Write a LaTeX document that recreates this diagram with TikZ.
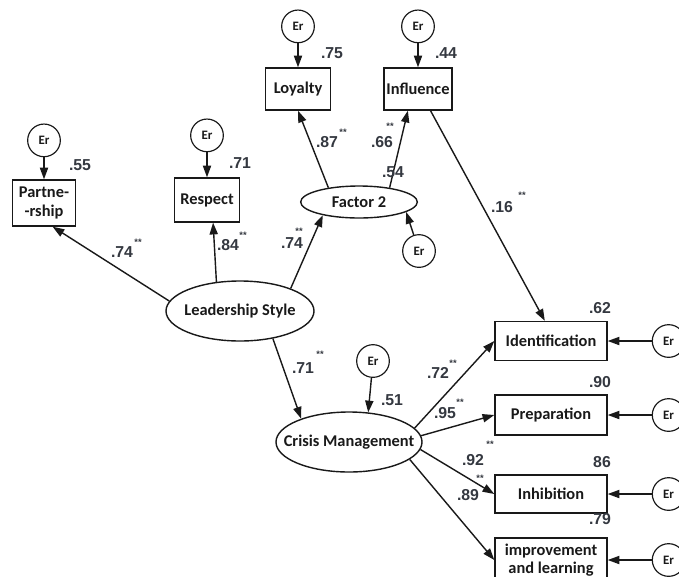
\documentclass[tikz,border=0pt]{standalone}
\usepackage{fontspec}
\setmainfont{Carlito}
\newfontfamily\numfont{Liberation Sans}
\usetikzlibrary{positioning}
\usetikzlibrary{shapes.geometric}
\usetikzlibrary{arrows.meta}
\definecolor{numgray}{RGB}{52,56,64}
\definecolor{inkgray}{RGB}{25,25,25}

\begin{document}
\begin{tikzpicture}[x=0.03cm, y=0.03cm, line width=1.2pt, draw=inkgray,
    >={Triangle[length=10pt,width=7pt]},
    box/.style={draw, rectangle, inner sep=2pt, align=center, text=inkgray,
      font=\bfseries\fontsize{14}{15.5}\selectfont},
    latent/.style={draw, ellipse, inner xsep=-14pt, inner ysep=0pt, text=inkgray,
      font=\bfseries\fontsize{14}{16}\selectfont},
    err/.style={draw, line width=1pt, circle, minimum size=0.98cm, inner sep=0pt, text=inkgray,
      font=\bfseries\fontsize{11}{13}\selectfont},
    coef/.style={inner sep=0pt, text=numgray,
      font=\numfont\bfseries\fontsize{13.5}{15}\selectfont},
    stars/.style={inner sep=0pt, text=numgray,
      font=\numfont\bfseries\fontsize{8}{9}\selectfont},
    path/.style={draw, ->}]
  \useasboundingbox (0,0) rectangle (679,-576);

  \node[box, minimum width=1.89cm, minimum height=1.38cm] (part) at (44,-203) {Partne-\\-rship};
  \node[box, minimum width=1.95cm, minimum height=1.32cm] (resp) at (207,-200) {Respect};
  \node[box, minimum width=1.95cm, minimum height=1.26cm] (loyal) at (298,-89) {Loyalty};
  \node[box, minimum width=1.95cm, minimum height=1.26cm] (infl) at (418,-89) {Influence};
  \node[latent, minimum width=3.5cm, minimum height=0.96cm] (fact) at (359,-202) {Factor 2};
  \node[latent, minimum width=4.44cm, minimum height=1.8cm] (lead) at (240,-311) {Leadership Style};
  \node[latent, minimum width=4.38cm, minimum height=1.8cm] (crisis) at (349,-442) {Crisis Management};
  \node[box, minimum width=3.36cm, minimum height=1.17cm] (ident) at (551,-341) {Identification};
  \node[box, minimum width=3.36cm, minimum height=1.2cm] (prep) at (551,-415) {Preparation};
  \node[box, minimum width=3.36cm, minimum height=1.14cm] (inhib) at (551,-494) {Inhibition};
  \node[box, minimum width=3.36cm, minimum height=1.32cm] (impr) at (551,-560) {improvement\\and learning};

  \node[err, above=0.66cm of part] (epart) {Er};
  \node[err, above=0.75cm of resp] (eresp) {Er};
  \node[err, above=0.72cm of loyal] (eloyal) {Er};
  \node[err, above=0.72cm of infl] (einfl) {Er};
  \node[err] (efact) at (419,-251) {Er};
  \node[err] (ecrisis) at (373,-361) {Er};
  \node[err, right=1.32cm of ident] (eident) {Er};
  \node[err, right=1.32cm of prep] (eprep) {Er};
  \node[err, right=1.32cm of inhib] (einhib) {Er};
  \node[err, right=1.32cm of impr] (eimpr) {Er};

  \draw[path] (epart) -- (part);
  \draw[path] (eresp) -- (resp);
  \draw[path] (eloyal) -- (loyal);
  \draw[path] (einfl) -- (infl);
  \draw[path] (efact) -- (fact.-12);
  \draw[path] (ecrisis) -- (crisis.57);
  \draw[path] (eident) -- (ident);
  \draw[path] (eprep) -- (prep);
  \draw[path] (einhib) -- (inhib);
  \draw[path] (eimpr) -- (impr);

  \draw[path] (lead.172) -- (part.290);
  \draw[path] (lead.129) -- (resp.285);
  \draw[path] (lead.24) -- (fact.200);
  \draw[path] (fact.155) -- (loyal.south);
  \draw[path] (fact.25) -- (infl.245);
  \draw[path] (infl.-60) -- (ident.107);
  \draw[path] (lead.-40) -- (crisis.154);
  \draw[path] (crisis.12) -- (ident.west);
  \draw[path] (crisis.5) -- (prep.west);
  \draw[path] (crisis.-6) -- (inhib.west);
  \draw[path] (crisis.-16) -- (impr.west);

  \node[coef] (r2part) at (80,-165) {.55};
  \node[coef] (r2resp) at (240,-163) {.71};
  \node[coef] (r2loyal) at (332,-53) {.75};
  \node[coef] (r2infl) at (446,-53) {.44};
  \node[coef] (r2fact) at (393,-172) {.54};
  \node[coef] (r2crisis) at (392,-400) {.51};
  \node[coef] (r2ident) at (600,-308) {.62};
  \node[coef] (r2prep) at (600,-382) {.90};
  \node[coef] (r2inhib) at (602,-462) {86};
  \node[coef] (r2impr) at (600,-519) {.79};

  \node[coef] (bpart) at (122,-252) {.74};
  \node[stars] (spart) at (138,-242) {**};
  \node[coef] (bresp) at (228,-245) {.84};
  \node[stars] (sresp) at (243,-235) {**};
  \node[coef] (bfact) at (292,-243) {.74};
  \node[stars] (sfact) at (299,-231) {**};
  \node[coef] (bloyal) at (327,-142) {.87};
  \node[stars] (sloyal) at (343,-132) {**};
  \node[coef] (binfl) at (382,-142) {.66};
  \node[stars] (sinfl) at (390,-126) {**};
  \node[coef] (bident) at (502,-207) {.16};
  \node[stars] (sident) at (522,-195) {**};
  \node[coef] (bcrisis) at (303,-368) {.71};
  \node[stars] (scrisis) at (320,-354) {**};
  \node[coef] (cident) at (438,-373) {.72};
  \node[stars] (tident) at (453,-363) {**};
  \node[coef] (cprep) at (445,-413) {.95};
  \node[stars] (tprep) at (460,-402) {**};
  \node[coef] (cinhib) at (473,-460) {.92};
  \node[stars] (tinhib) at (490,-444) {**};
  \node[coef] (cimpr) at (468,-495) {.89};
  \node[stars] (timpr) at (480,-478) {**};
\end{tikzpicture}
\end{document}
